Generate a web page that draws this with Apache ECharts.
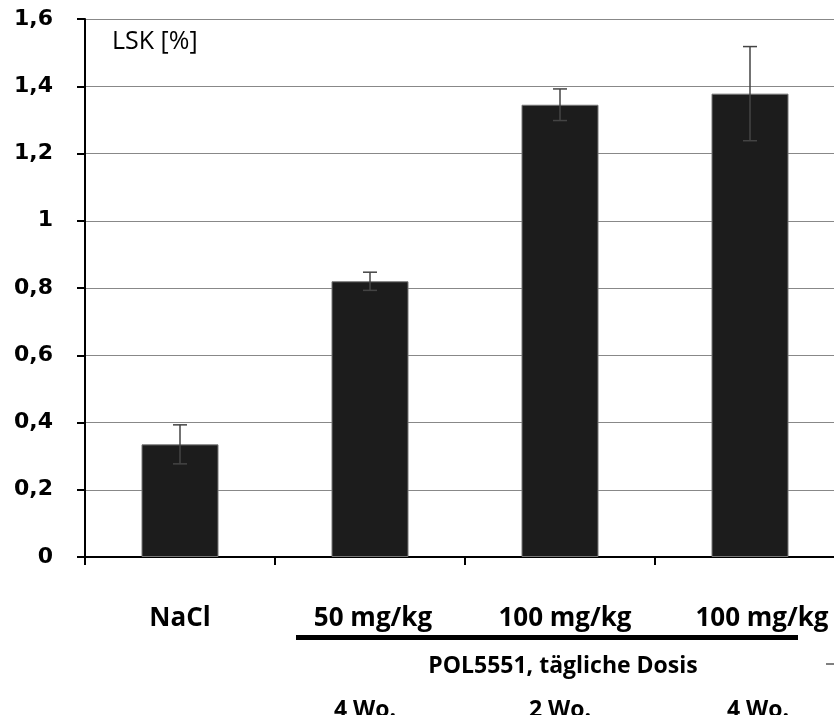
<!DOCTYPE html>
<html><head><meta charset="utf-8">
<script src="https://cdn.jsdelivr.net/npm/echarts@6/dist/echarts.min.js"></script>
<style>html,body{margin:0;padding:0;background:#fff;overflow:hidden}#c{width:848px;height:715px}</style>
</head><body><div id="c"></div>
<script>
const categories = ['NaCl', '50 mg/kg', '100 mg/kg', '100 mg/kg'];
const values = [0.335, 0.82, 1.345, 1.378];
const errors = [0.058, 0.027, 0.047, 0.14];
const durations = ['4 Wo.', '2 Wo.', '4 Wo.'];
const groupLabel = 'POL5551, tägliche Dosis';
const yTitle = 'LSK [%]';

const font = '"Open Sans", "Liberation Sans", sans-serif';
const tickFont = '"DejaVu Sans", sans-serif';
const chart = echarts.init(document.getElementById('c'));
const errData = values.map((v, i) => [i, v - errors[i], v + errors[i]]);
const durX = [365, 560, 758];

chart.setOption({
  animation: false,
  grid: { left: 85, top: 19, width: 760, height: 538 },
  xAxis: {
    type: 'category', data: categories,
    axisLine: { lineStyle: { color: '#000', width: 2 } },
    axisTick: { show: true, interval: 0, length: 8, lineStyle: { color: '#000', width: 2 } },
    axisLabel: {
      interval: 0, margin: 49, fontFamily: font, fontWeight: 'bold', fontSize: 26, color: '#000',
      formatter: (v, i) => '{s' + i + '|' + v + '}',
      rich: {
        s0: { fontFamily: font, fontWeight: 'bold', fontSize: 26, color: '#000' },
        s1: { fontFamily: font, fontWeight: 'bold', fontSize: 26, color: '#000', padding: [0, 0, 0, 6] },
        s2: { fontFamily: font, fontWeight: 'bold', fontSize: 26, color: '#000', padding: [0, 0, 0, 10] },
        s3: { fontFamily: font, fontWeight: 'bold', fontSize: 26, color: '#000', padding: [0, 0, 0, 24] }
      }
    }
  },
  yAxis: {
    type: 'value', min: 0, max: 1.6, interval: 0.2,
    axisLine: { show: true, lineStyle: { color: '#000', width: 2 } },
    axisTick: { show: true, length: 8, lineStyle: { color: '#000', width: 2 } },
    splitLine: { lineStyle: { color: '#888', width: 1 } },
    axisLabel: {
      margin: 32, fontFamily: tickFont, fontWeight: 'bold', fontSize: 22, color: '#000',
      formatter: v => String(Math.round(v * 10) / 10).replace('.', ',')
    }
  },
  series: [
    {
      type: 'bar', data: values, barWidth: 77,
      itemStyle: { color: '#1c1c1c', borderColor: '#777', borderWidth: 1 }
    },
    {
      type: 'custom', data: errData, z: 5,
      renderItem: (params, api) => {
        const x = api.coord([api.value(0), 0])[0];
        const lo = api.coord([api.value(0), api.value(1)])[1];
        const hi = api.coord([api.value(0), api.value(2)])[1];
        const w = 7;
        const st = { stroke: '#444', lineWidth: 1.5 };
        return { type: 'group', children: [
          { type: 'line', shape: { x1: x, y1: lo, x2: x, y2: hi }, style: st },
          { type: 'line', shape: { x1: x - w, y1: lo, x2: x + w, y2: lo }, style: st },
          { type: 'line', shape: { x1: x - w, y1: hi, x2: x + w, y2: hi }, style: st }
        ]};
      }
    }
  ],
  graphic: [
    { type: 'text', x: 112, y: 42, style: { text: yTitle, fontFamily: font, fontSize: 25, fill: '#000', verticalAlign: 'middle' } },
    { type: 'rect', shape: { x: 296, y: 635, width: 502, height: 5 }, style: { fill: '#000' } },
    { type: 'text', x: 563, y: 666, style: { text: groupLabel, fontFamily: font, fontWeight: 'bold', fontSize: 23, fill: '#000', align: 'center', verticalAlign: 'middle' } },
    { type: 'line', shape: { x1: 826, y1: 664, x2: 834, y2: 664 }, style: { stroke: '#000', lineWidth: 1 } }
  ].concat(durations.map((d, i) => ({
    type: 'text', x: durX[i], y: 710,
    style: { text: d, fontFamily: font, fontWeight: 'bold', fontSize: 23, fill: '#000', align: 'center', verticalAlign: 'middle' }
  })))
});
</script></body></html>
